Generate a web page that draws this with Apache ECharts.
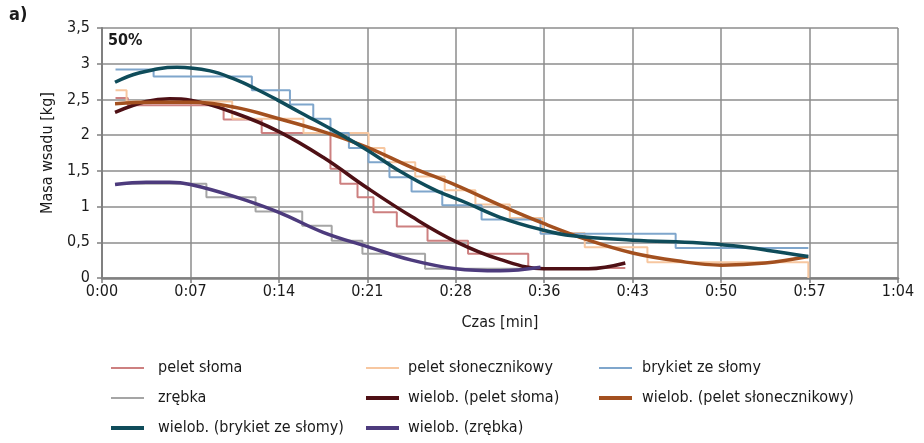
<!DOCTYPE html>
<html>
<head>
<meta charset="utf-8">
<script src="https://cdn.jsdelivr.net/npm/echarts@6/dist/echarts.min.js"></script>
<style>
  html, body { margin: 0; padding: 0; background: #fff; }
  #chart { width: 924px; height: 443px; }
</style>
</head>
<body>
<div id="chart"></div>
<script>
// x axis ticks are every 7.2 min, labels as printed on the original
const xTickLabels = ["0:00", "0:07", "0:14", "0:21", "0:28", "0:36", "0:43", "0:50", "0:57", "1:04"];
const yTickLabels = ["0", "0,5", "1", "1,5", "2", "2,5", "3", "3,5"];

// measured series (step lines), time in minutes
const peletSlomaT = [1.1, 2.1, 9.9, 13.0, 18.6, 19.4, 20.8, 22.1, 24.0, 26.5, 29.8, 34.7, 42.6];
const peletSlomaV = [2.52, 2.42, 2.22, 2.03, 1.53, 1.32, 1.13, 0.92, 0.72, 0.52, 0.34, 0.14, 0.14];

const peletSlonT = [1.1, 2.0, 10.6, 16.4, 21.7, 23.0, 25.5, 27.9, 30.4, 33.2, 35.9, 39.3, 44.4, 57.5];
const peletSlonV = [2.63, 2.47, 2.23, 2.03, 1.82, 1.62, 1.42, 1.23, 1.03, 0.84, 0.63, 0.43, 0.22, 0.0];

const brykietT = [1.1, 4.2, 12.2, 15.3, 17.2, 18.6, 20.1, 21.7, 23.4, 25.2, 27.7, 30.9, 35.7, 46.7, 57.5];
const brykietV = [2.92, 2.82, 2.63, 2.43, 2.23, 2.03, 1.82, 1.62, 1.41, 1.21, 1.02, 0.82, 0.62, 0.42, 0.42];

const zrebkaT = [1.1, 8.5, 12.5, 16.3, 18.7, 21.2, 26.3, 35.9];
const zrebkaV = [1.32, 1.13, 0.93, 0.73, 0.52, 0.34, 0.13, 0.13];

// polynomial trend lines
const fitSlomaT = [1.06, 3.6, 5.5, 7.2, 10.8, 14.4, 18, 21.6, 25.2, 28.8, 32.4, 36, 39.6, 42.6];
const fitSlomaV = [2.32, 2.47, 2.51, 2.49, 2.31, 2.05, 1.69, 1.26, 0.86, 0.51, 0.26, 0.13, 0.13, 0.21];

const fitSlonT = [1.06, 4.2, 7.2, 10.8, 14.4, 18, 21.6, 25.2, 28.8, 32.4, 36, 39.6, 43.2, 46.8, 50.4, 54, 57.5];
const fitSlonV = [2.44, 2.46, 2.46, 2.39, 2.23, 2.05, 1.83, 1.55, 1.30, 1.02, 0.76, 0.53, 0.35, 0.24, 0.18, 0.21, 0.30];

const fitBrykietT = [1.06, 3.0, 6.1, 8.8, 10.7, 12.5, 14.3, 16.1, 18.8, 21.6, 24.3, 27.0, 29.7, 32.4, 35.7, 38.3, 43.2, 48.7, 51.4, 54.1, 57.5];
const fitBrykietV = [2.74, 2.87, 2.95, 2.90, 2.79, 2.65, 2.49, 2.32, 2.07, 1.79, 1.49, 1.24, 1.05, 0.85, 0.68, 0.59, 0.53, 0.49, 0.45, 0.39, 0.30];

const fitZrebkaT = [1.06, 3.6, 5.5, 7.2, 10.8, 14.4, 18, 21.6, 25.2, 28.8, 32.4, 35.7];
const fitZrebkaV = [1.31, 1.34, 1.34, 1.31, 1.14, 0.92, 0.64, 0.44, 0.25, 0.13, 0.10, 0.15];

function zip(t, v) {
  return t.map((x, i) => [x, v[i]]);
}

const font = "'Liberation Sans Narrow', 'DejaVu Sans Condensed', 'Liberation Sans', sans-serif";

// legend icons: flat bars, thin for measured data, thick for trend lines
const thinIcon = "path://M0,0 H33 V2 H0 Z";
const thickIcon = "path://M0,0 H33 V4 H0 Z";

function stepLine(name, color, t, v) {
  return {
    name: name, type: "line", step: "end", symbol: "none",
    lineStyle: { color: color, width: 2 }, itemStyle: { color: color },
    data: zip(t, v)
  };
}

function fitLine(name, color, t, v) {
  return {
    name: name, type: "line", smooth: 0.4, symbol: "none",
    lineStyle: { color: color, width: 3.5 }, itemStyle: { color: color },
    data: zip(t, v)
  };
}

function legendCol(left, textGap, items) {
  return {
    left: left, top: 360, height: 80, padding: 0,
    orient: "vertical",
    itemWidth: 33, itemHeight: 14, itemGap: 14,
    textStyle: { fontFamily: font, fontSize: 16, color: "#1a1a1a", padding: [0, 0, 0, textGap] },
    data: items.map(n => ({ name: n, icon: n.indexOf("wielob.") === 0 ? thickIcon : thinIcon }))
  };
}

const chart = echarts.init(document.getElementById("chart"));
chart.setOption({
  animation: false,
  backgroundColor: "#fff",
  grid: { left: 102, right: 26, top: 28, bottom: 165 },
  graphic: [
    { type: "text", left: 9, top: 6, style: { text: "a)", font: "bold 18px " + font, fill: "#1a1a1a" } },
    { type: "text", left: 108, top: 33, style: { text: "50%", font: "bold 16px " + font, fill: "#1a1a1a" } }
  ],
  legend: [
    legendCol(111, 9, ["pelet słoma", "zrębka", "wielob. (brykiet ze słomy)"]),
    legendCol(366, 4, ["pelet słonecznikowy", "wielob. (pelet słoma)", "wielob. (zrębka)"]),
    legendCol(599, 5, ["brykiet ze słomy", "wielob. (pelet słonecznikowy)"])
  ],
  xAxis: {
    type: "value", min: 0, max: 64.8, interval: 7.2,
    name: "Czas [min]", nameLocation: "middle", nameGap: 37,
    nameTextStyle: { fontFamily: font, fontSize: 16, color: "#1a1a1a" },
    axisLine: { lineStyle: { color: "#808080", width: 2.5 } },
    axisTick: { show: true, length: 5, lineStyle: { color: "#808080", width: 1.5 } },
    axisLabel: {
      fontFamily: font, fontSize: 16, color: "#1a1a1a", margin: 6,
      formatter: v => xTickLabels[Math.round(v / 7.2)]
    },
    splitLine: { show: true, lineStyle: { color: "#8c8c8c", width: 1.5 } }
  },
  yAxis: {
    type: "value", min: 0, max: 3.5, interval: 0.5,
    name: "Masa wsadu [kg]", nameLocation: "middle", nameGap: 45,
    nameTextStyle: { fontFamily: font, fontSize: 16, color: "#1a1a1a" },
    axisLine: { show: true, lineStyle: { color: "#808080", width: 2 } },
    axisTick: { show: true, length: 5, lineStyle: { color: "#808080", width: 1.5 } },
    axisLabel: {
      fontFamily: font, fontSize: 16, color: "#1a1a1a", margin: 12,
      formatter: v => yTickLabels[Math.round(v / 0.5)]
    },
    splitLine: { show: true, lineStyle: { color: "#8c8c8c", width: 1.5 } }
  },
  series: [
    stepLine("pelet słoma", "#cd8080", peletSlomaT, peletSlomaV),
    stepLine("pelet słonecznikowy", "#f7c7a0", peletSlonT, peletSlonV),
    stepLine("brykiet ze słomy", "#7fa6cc", brykietT, brykietV),
    stepLine("zrębka", "#a5a5a5", zrebkaT, zrebkaV),
    fitLine("wielob. (pelet słoma)", "#4e1015", fitSlomaT, fitSlomaV),
    fitLine("wielob. (pelet słonecznikowy)", "#a3501f", fitSlonT, fitSlonV),
    fitLine("wielob. (brykiet ze słomy)", "#0f4c5a", fitBrykietT, fitBrykietV),
    fitLine("wielob. (zrębka)", "#4d3b7d", fitZrebkaT, fitZrebkaV)
  ]
});
</script>
</body>
</html>
